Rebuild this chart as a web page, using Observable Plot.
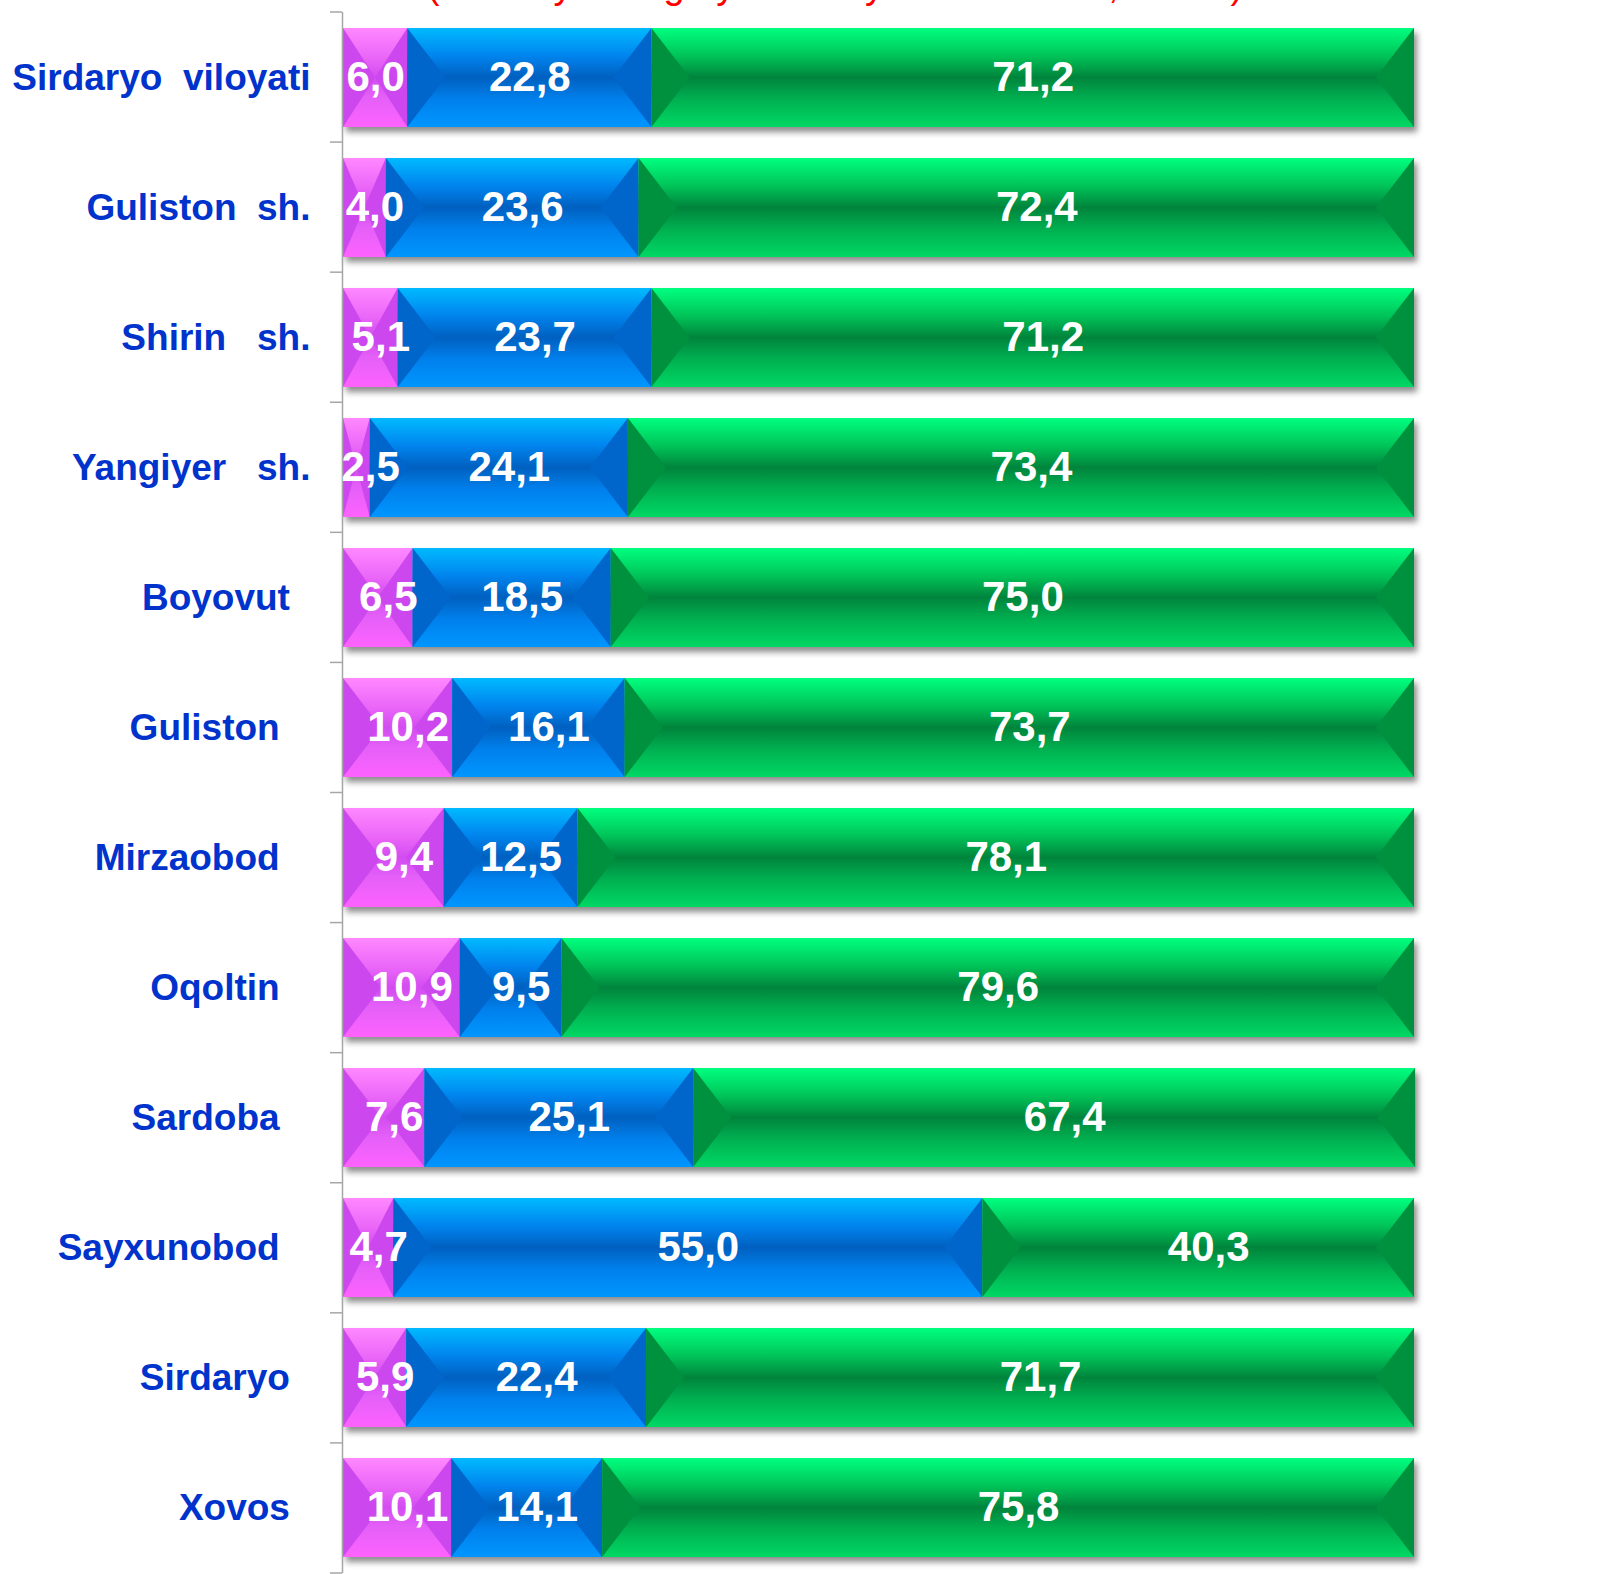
<!DOCTYPE html>
<html><head><meta charset="utf-8">
<script src="https://cdn.jsdelivr.net/npm/d3@7"></script>
<script src="https://cdn.jsdelivr.net/npm/@observablehq/plot@0.6"></script>
<style>
html,body{margin:0;padding:0;background:#fff;overflow:hidden}
#wrap{position:relative;width:1620px;height:1574px;overflow:hidden}
#title{position:absolute;top:-34px;left:0;width:1670px;text-align:center;color:#ff0000;font:38px/38px 'Liberation Sans',Arial,sans-serif;white-space:pre}
#chart svg text{white-space:pre}
</style></head><body>
<div id="wrap"><div id="title">(umumiy aholiga yoshi bo'yicha nisbatan, foizda)</div><div id="chart"></div></div>
<script>
const categories = ["Sirdaryo  viloyati", "Guliston  sh.", "Shirin   sh.", "Yangiyer   sh.", "Boyovut  ", "Guliston   ", "Mirzaobod   ", "Oqoltin   ", "Sardoba   ", "Sayxunobod   ", "Sirdaryo  ", "Xovos  "];
const seriesNames = ["pink", "blue", "green"];
const pink  = [6.0, 4.0, 5.1, 2.5, 6.5, 10.2, 9.4, 10.9, 7.6, 4.7, 5.9, 10.1];
const blue  = [22.8, 23.6, 23.7, 24.1, 18.5, 16.1, 12.5, 9.5, 25.1, 55.0, 22.4, 14.1];
const green = [71.2, 72.4, 71.2, 73.4, 75.0, 73.7, 78.1, 79.6, 67.4, 40.3, 71.7, 75.8];

const seriesArrays = [pink, blue, green];
const segs = [];
categories.forEach((c, i) => {
  let acc = 0;
  seriesArrays.forEach((arr, s) => {
    const v = arr[i];
    segs.push({cat: c, row: i, series: seriesNames[s], value: v, x1: acc, x2: acc + v});
    acc += v;
  });
});
const totals = categories.map((c, i) => ({cat: c, total: pink[i] + blue[i] + green[i]}));

const grads = [
  [[0, "#ff88ff"], [0.3, "#ea66f8"], [0.5, "#d24cf0"], [0.7, "#e460f8"], [1, "#ff62ff"]],
  [[0, "#00baff"], [0.28, "#0084ee"], [0.5, "#0060c0"], [0.72, "#0080ec"], [1, "#0096ff"]],
  [[0, "#00ff80"], [0.28, "#00c458"], [0.5, "#00843c"], [0.72, "#00b050"], [1, "#00d864"]]
];
const sideColors = ["#cc48ee", "#0066cc", "#00913f"];
const fmt = d => d.value.toFixed(1).replace(".", ",");
const labelStyle = {fill: "white", fontSize: 42, fontWeight: "bold"};

const plot = Plot.plot({
  width: 1620, height: 1574,
  marginLeft: 343, marginRight: 206, marginTop: 12, marginBottom: 1,
  x: {domain: [0, 100], axis: null},
  y: {domain: categories, paddingInner: 0.24, paddingOuter: 0.12},
  style: {fontFamily: "'Liberation Sans', Arial, sans-serif", background: "white"},
  marks: [
    Plot.barX(totals, {y: "cat", x1: 0, x2: "total", fill: "#6e6e6e", dx: 3, dy: 5}),
    ...seriesNames.map((s, k) => Plot.barX(segs.filter(d => d.series === s), {y: "cat", x1: "x1", x2: "x2", fill: `url(#grad-${k})`})),
    Plot.ruleX([0], {stroke: "#a6a6a6", strokeWidth: 1.5, dx: -1}),
    Plot.axisY({tickSize: 0, tickPadding: 33, fontSize: 37, fontWeight: "bold", fill: "#0033cc", label: null}),
    Plot.text(segs.filter(d => d.row === 0), {y: "cat", x: d => Math.max((d.x1 + d.x2) / 2, 2.7), text: fmt, ...labelStyle}),
    Plot.text(segs.filter(d => d.row > 0), {y: "cat", x: d => Math.max((d.x1 + d.x2) / 2, 1.6), text: fmt, dx: 10, ...labelStyle})
  ]
});
document.getElementById("chart").appendChild(plot);

const svg = d3.select(plot);
const defs = svg.insert("defs", ":first-child");
grads.forEach((stops, k) => {
  const g = defs.append("linearGradient").attr("id", `grad-${k}`).attr("x1", 0).attr("y1", 0).attr("x2", 0).attr("y2", 1);
  stops.forEach(([o, c]) => g.append("stop").attr("offset", o).attr("stop-color", c));
});
const f = defs.append("filter").attr("id", "soft").attr("x", "-5%").attr("y", "-30%").attr("width", "110%").attr("height", "160%");
f.append("feGaussianBlur").attr("stdDeviation", 3);

const barGroups = svg.selectAll('g[aria-label="bar"]').nodes();
d3.select(barGroups[0]).attr("filter", "url(#soft)").attr("opacity", 0.8);

seriesNames.forEach((s, k) => {
  const g = d3.select(barGroups[k + 1]);
  g.selectAll("rect").nodes().forEach(node => {
    const r = d3.select(node);
    const x = +r.attr("x"), y = +r.attr("y"), w = +r.attr("width"), h = +r.attr("height");
    const d = Math.min(38, w / 2);
    g.append("polygon").attr("points", `${x},${y} ${x + d},${y + h / 2} ${x},${y + h}`).attr("fill", sideColors[k]);
    g.append("polygon").attr("points", `${x + w},${y} ${x + w - d},${y + h / 2} ${x + w},${y + h}`).attr("fill", sideColors[k]);
  });
});

// category boundary ticks on the y axis
const ys = plot.scale("y"), xs = plot.scale("x");
const x0 = xs.apply ? xs.apply(0) : xs.range[0];
const r0 = Math.min(...ys.range), r1 = Math.max(...ys.range);
const step = (r1 - r0) / categories.length;
const tg = svg.append("g").attr("stroke", "#a6a6a6").attr("stroke-width", 1.5);
for (let i = 0; i <= categories.length; i++) {
  const yy = r0 + i * step;
  tg.append("line").attr("x1", x0 - 13).attr("x2", x0 - 1).attr("y1", yy).attr("y2", yy);
}
</script>
</body></html>
